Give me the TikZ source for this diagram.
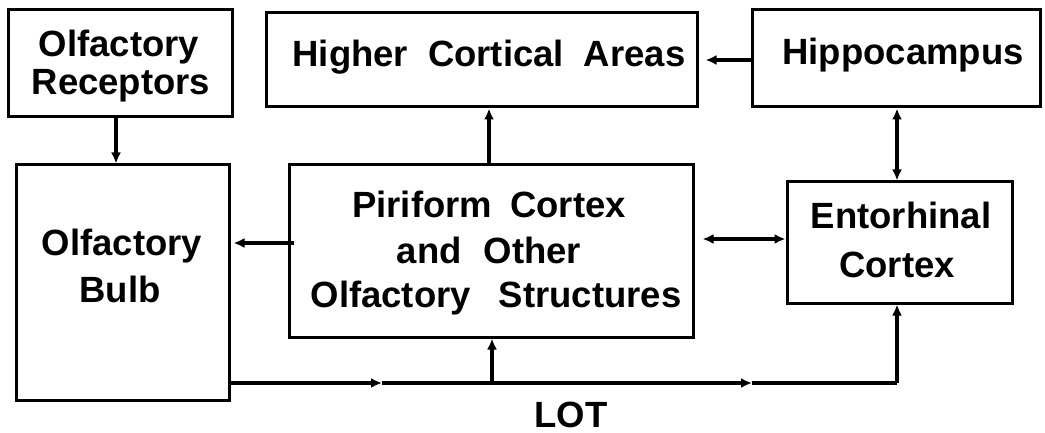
\documentclass[tikz,border=0pt]{standalone}
\usepackage{fontspec}
\setmainfont{Liberation Sans}
\usetikzlibrary{arrows.meta}
\begin{document}
\begin{tikzpicture}[x=1pt,y=-1pt,
  box/.style={draw,line width=3pt,rectangle,inner sep=0pt},
  lbl/.style={anchor=base,inner sep=0pt,font=\fontsize{36.5}{42}\selectfont\bfseries},
  conn/.style={line width=3.2pt,-{Latex[length=11pt,width=10pt]}},
  dconn/.style={line width=3.2pt,{Latex[length=11pt,width=10pt]}-{Latex[length=11pt,width=10pt]}},
  plain/.style={line width=3.2pt}]
\useasboundingbox (0,0) rectangle (1045,433);
% boxes
\node[box,minimum width=224pt,minimum height=107pt] (rec) at (120,63.5) {};
\node[box,minimum width=431pt,minimum height=94pt] (high) at (481.5,60) {};
\node[box,minimum width=288pt,minimum height=97pt] (hip) at (896,58.5) {};
\node[box,minimum width=213pt,minimum height=235pt] (bulb) at (122.5,282.5) {};
\node[box,minimum width=404pt,minimum height=172pt] (pir) at (491,251) {};
\node[box,minimum width=225pt,minimum height=121pt] (ento) at (899.5,242.5) {};
% labels (positioned by baseline)
\node[lbl] (rec1) at (119,57) {Olfactory};
\node[lbl] (rec2) at (121,95) {Receptors};
\node[lbl] (high1) at (489,67) {Higher\hspace{20pt}Cortical\hspace{20pt}Areas};
\node[lbl] (hip1) at (903,65) {Hippocampus};
\node[lbl] (bulb1) at (122,255) {Olfactory};
\node[lbl] (bulb2) at (120,302) {Bulb};
\node[lbl] (pir1) at (489,218) {Piriform\hspace{18pt}Cortex};
\node[lbl] (pir2) at (489,263) {and\hspace{22pt}Other};
\node[lbl] (pir3) at (496,307) {Olfactory\hspace{28pt}Structures};
\node[lbl] (ento1) at (901,229) {Entorhinal};
\node[lbl] (ento2) at (897,277) {Cortex};
\node[lbl] (lot) at (571,427) {LOT};
% connector points
\coordinate (lot0) at (229,383);
\coordinate (lotA) at (382,383);
\coordinate (jpir) at (492,383);
\coordinate (lotB) at (752,383);
\coordinate (jento) at (897,383);
% connectors
\draw[conn] (rec.south -| 116,0) -- (bulb.north -| 116,0);
\draw[conn] (pir.north -| 489,0) -- (high.south -| 489,0);
\draw[conn,shorten >=7pt] (hip.west |- 0,60) -- (high.east |- 0,60);
\draw[dconn] (hip.south -| 897,0) -- (ento.north -| 897,0);
\draw[conn,shorten >=3pt] ([xshift=6pt]pir.west |- 0,243) -- (bulb.east |- 0,243);
\draw[dconn,shorten <=8pt] (pir.east |- 0,239) -- (ento.west |- 0,239);
\draw[conn] (lot0) -- (lotA);
\draw[plain] (lotA) -- (jpir);
\draw[conn] (jpir) -- (lotB);
\draw[plain] (lotB) -- (jento);
\draw[conn] (jpir) -- (pir.south -| jpir);
\draw[conn] (jento) -- (ento.south -| jento);
\end{tikzpicture}
\end{document}
